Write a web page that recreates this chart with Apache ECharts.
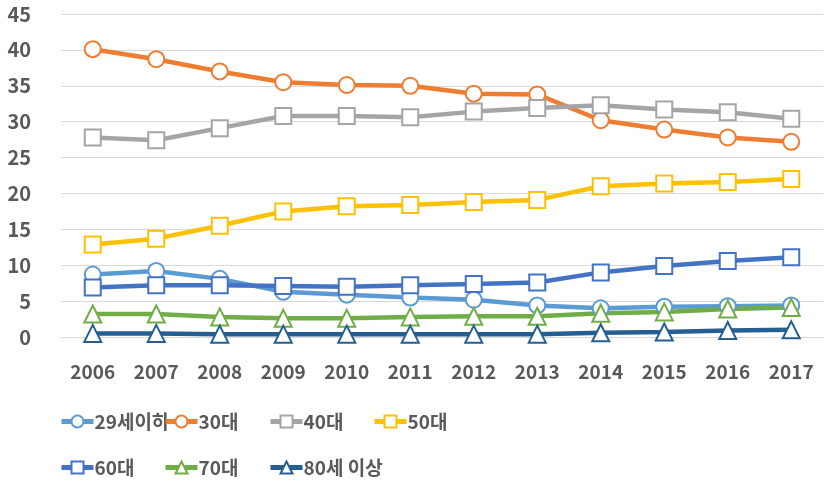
<!DOCTYPE html>
<html><head><meta charset="utf-8">
<script src="https://cdn.jsdelivr.net/npm/echarts@6/dist/echarts.min.js"></script>
<style>html,body{margin:0;padding:0;background:#fff}#c{width:827px;height:482px}</style>
</head><body><div id="c"></div>
<script>
const years = ['2006','2007','2008','2009','2010','2011','2012','2013','2014','2015','2016','2017'];
const seriesNames = ['29세이하','30대','40대','50대','60대','70대','80세 이상'];
const s29 = [8.7, 9.2, 8.1, 6.3, 5.9, 5.5, 5.2, 4.4, 4.0, 4.2, 4.3, 4.4];
const s30 = [40.1, 38.7, 37.0, 35.5, 35.1, 35.0, 33.9, 33.8, 30.2, 28.9, 27.8, 27.2];
const s40 = [27.8, 27.4, 29.1, 30.8, 30.8, 30.6, 31.4, 31.9, 32.3, 31.7, 31.3, 30.4];
const s50 = [12.9, 13.7, 15.5, 17.5, 18.2, 18.4, 18.8, 19.1, 21.0, 21.4, 21.6, 22.0];
const s60 = [6.9, 7.2, 7.2, 7.1, 7.0, 7.2, 7.4, 7.6, 9.0, 9.9, 10.6, 11.1];
const s70 = [3.2, 3.2, 2.8, 2.6, 2.6, 2.8, 2.9, 2.9, 3.3, 3.5, 3.9, 4.1];
const s80 = [0.5, 0.5, 0.4, 0.4, 0.4, 0.4, 0.4, 0.4, 0.6, 0.7, 0.9, 1.0];
const yTicks = [0, 5, 10, 15, 20, 25, 30, 35, 40, 45];

const values = [s29, s30, s40, s50, s60, s70, s80];
const colors = ['#5B9BD5','#ED7D31','#A5A5A5','#FFC000','#4472C4','#70AD47','#255E91'];
const symbols = ['circle','circle','rect','rect','rect','triangle','triangle'];
const FONT = "'Noto Sans CJK KR', 'Noto Sans', sans-serif";
const NARROW = "'Liberation Sans Narrow', 'Noto Sans CJK KR', sans-serif";

const chart = echarts.init(document.getElementById('c'), null, {renderer:'canvas'});
const series = seriesNames.map((n, i) => ({
  name: n, type: 'line', data: values[i],
  symbol: symbols[i], symbolSize: symbols[i]==='triangle' ? 17 : 16,
  showAllSymbol: true,
  lineStyle: {color: colors[i], width: 4.5},
  itemStyle: {color: '#fff', borderColor: colors[i], borderWidth: 2},
  emphasis: {disabled: true},
  animation: false
}));
const legendPos = [[59,412],[163,412],[268,412],[372,412],[59,458],[163,458],[268,458]];
const legends = seriesNames.map((n, i) => ({
  data: [n], left: legendPos[i][0], top: legendPos[i][1], padding: 0,
  itemWidth: 32, itemHeight: 15, itemGap: 0,
  lineStyle: {width: 5},
  textStyle: {fontFamily: FONT, fontSize: 19, fontWeight: 'bold', color: '#595959', padding: [0,0,0,-4]},
  selectedMode: false
}));
chart.setOption({
  animation: false,
  backgroundColor: '#fff',
  grid: {left: 61, right: 4, top: 14, bottom: 145, containLabel: false},
  legend: legends,
  xAxis: {
    type: 'category', data: years, boundaryGap: true,
    axisLine: {show: true, lineStyle: {color: '#D9D9D9', width: 1}},
    axisTick: {show: false},
    axisLabel: {margin: 25, fontFamily: NARROW, fontSize: 19, fontWeight: 'bold', color: '#595959'}
  },
  yAxis: {
    type: 'value', min: yTicks[0], max: yTicks[yTicks.length-1], interval: yTicks[1]-yTicks[0],
    axisLine: {show: false}, axisTick: {show: false},
    splitLine: {lineStyle: {color: '#D9D9D9', width: 1}},
    axisLabel: {margin: 30, fontFamily: FONT, fontSize: 20, fontWeight: 'bold', color: '#595959'}
  },
  series: series
});
</script></body></html>
